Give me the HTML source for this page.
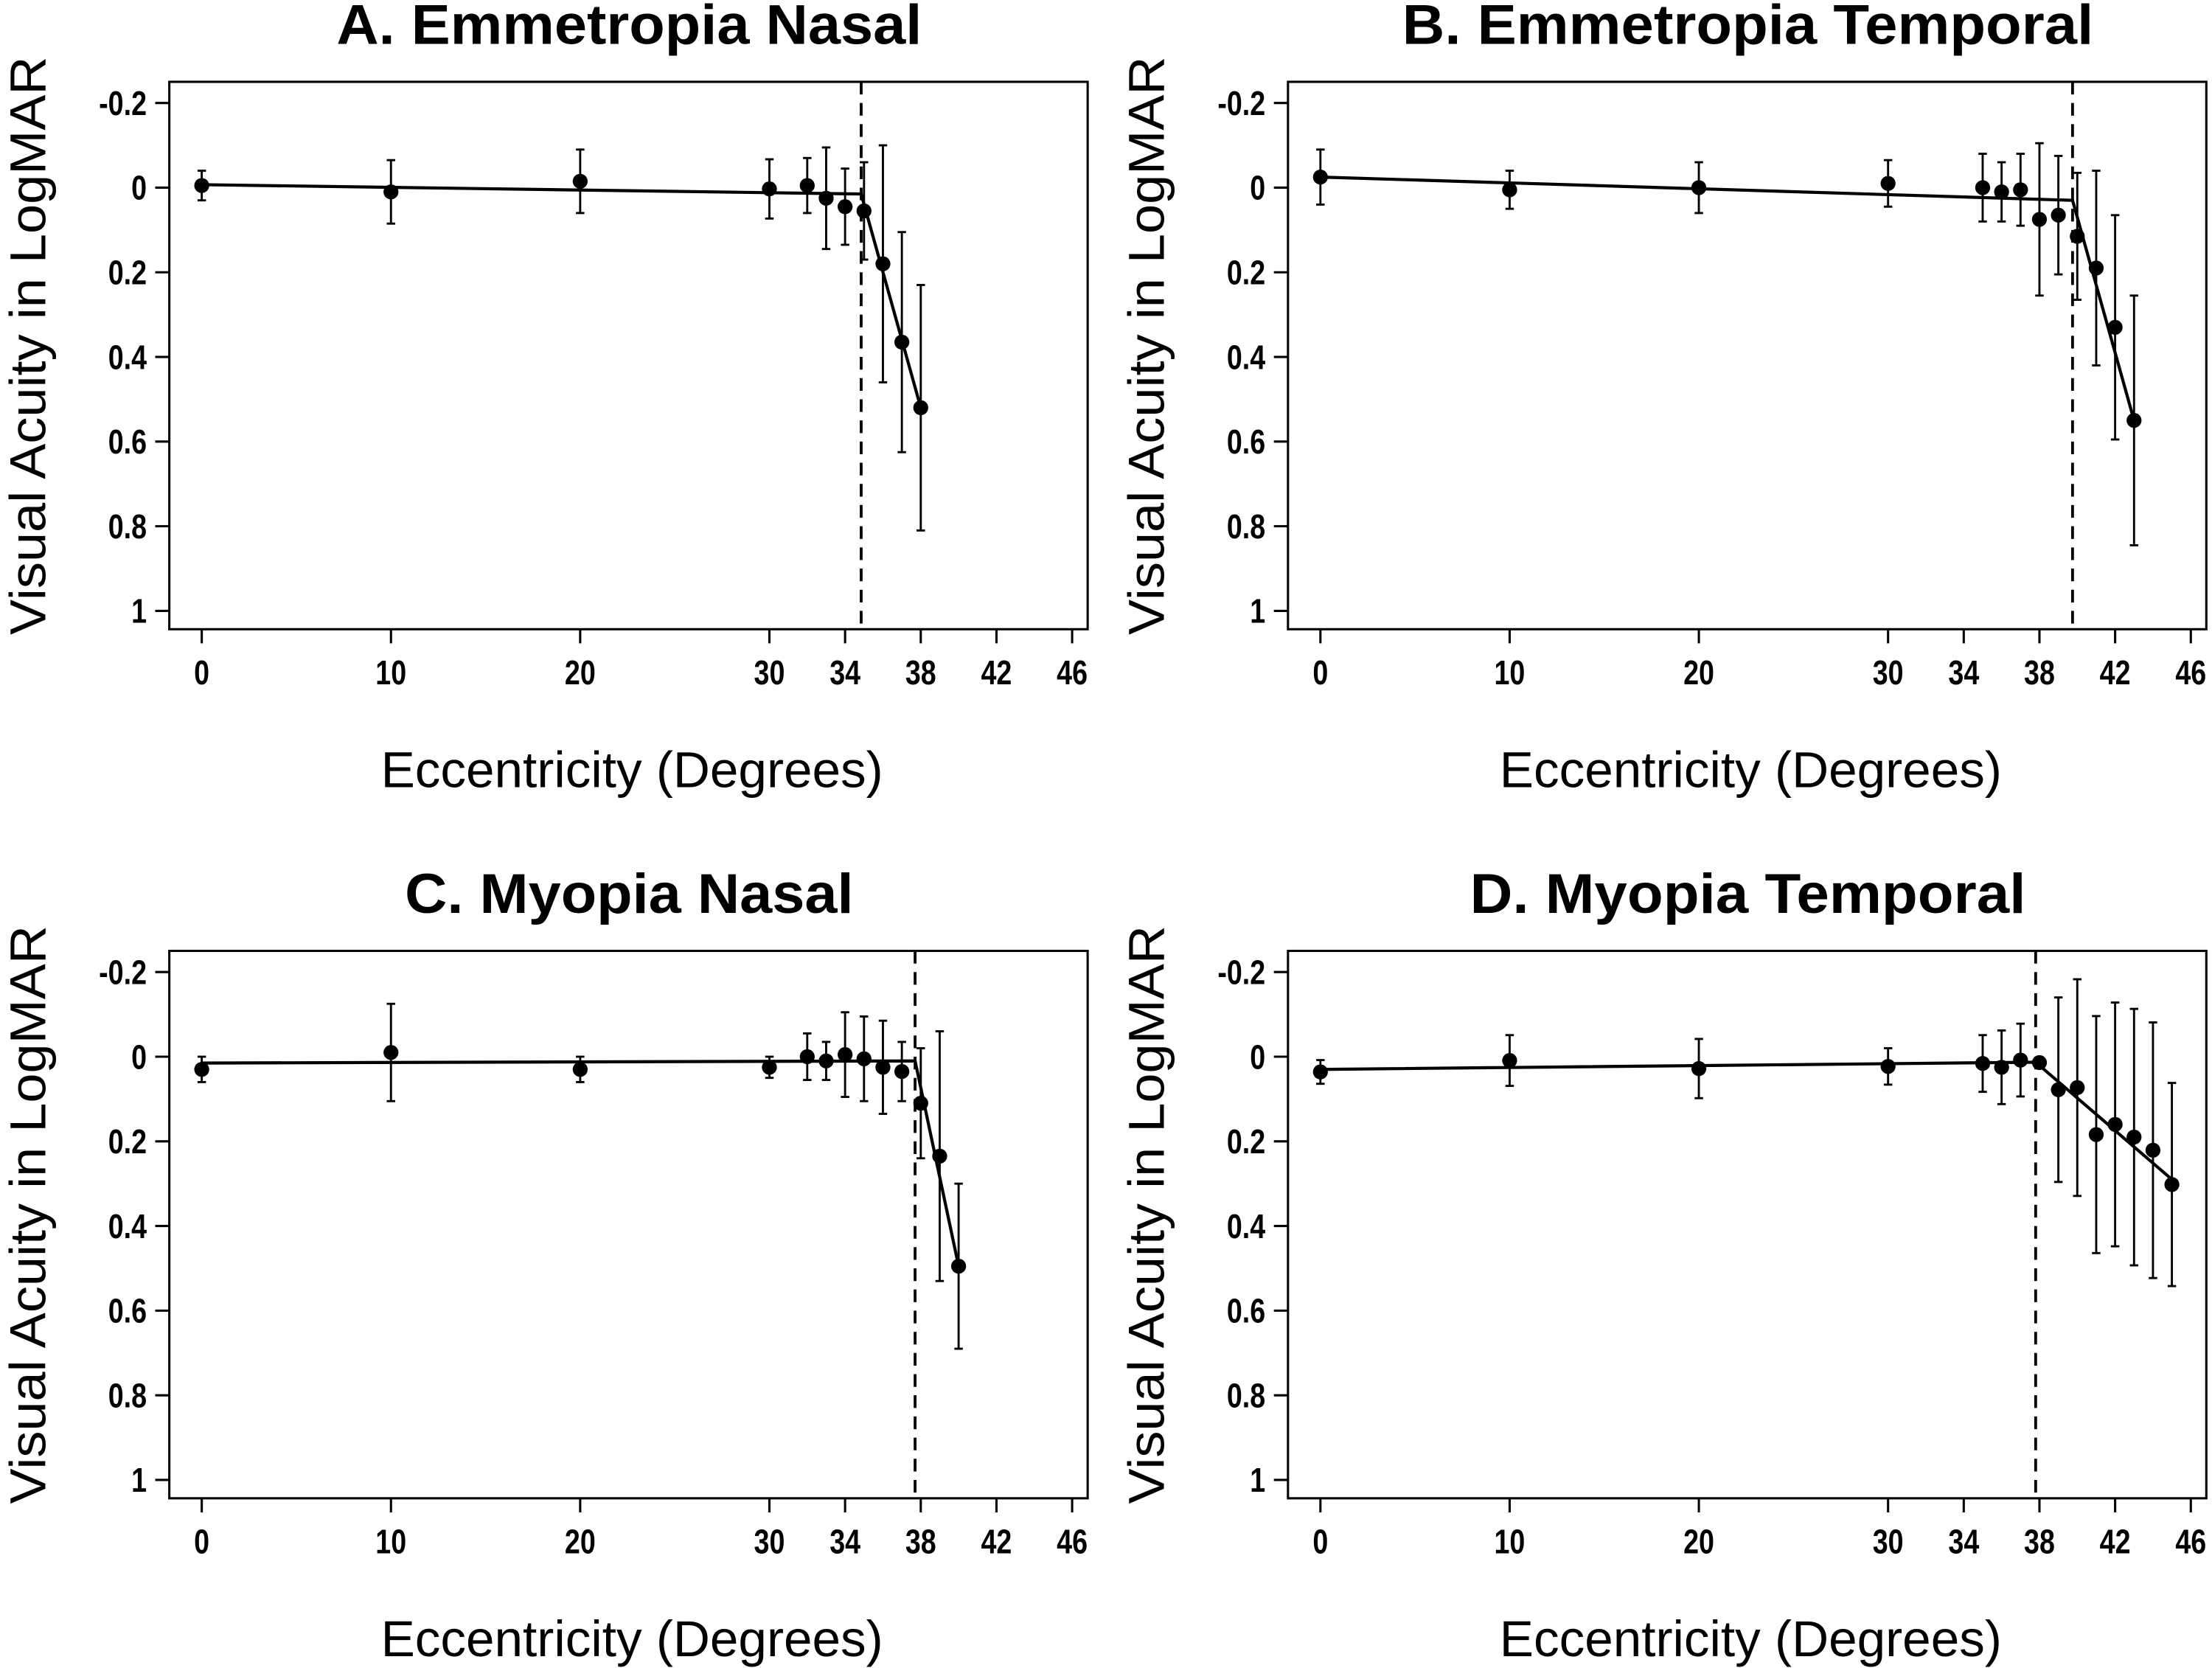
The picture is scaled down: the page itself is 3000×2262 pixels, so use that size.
<!DOCTYPE html>
<html><head><meta charset="utf-8"><style>
html,body{margin:0;padding:0;background:#fff;}
svg{display:block;}
text{font-family:"Liberation Sans",Arial,sans-serif;fill:#000;}
</style></head>
<body>
<svg id="fig" width="3000" height="2262" viewBox="0 0 1568 1182.3" xmlns="http://www.w3.org/2000/svg"></svg>
<script>
const xTicks=[0,10,20,30,34,38,42,46];
const yTicks=[-0.2,0,0.2,0.4,0.6,0.8,1];
const yTickLabels=["-0.2","0","0.2","0.4","0.6","0.8","1"];
const titles=["A. Emmetropia Nasal","B. Emmetropia Temporal","C. Myopia Nasal","D. Myopia Temporal"];
const titleLens=[415,490,318,394];
const xA=[0,10,20,30,32,33,34,35,36,37,38];
const yA=[-0.005,0.01,-0.015,0.003,-0.005,0.025,0.045,0.055,0.18,0.365,0.52];
const eA=[0.035,0.075,0.075,0.07,0.065,0.12,0.09,0.115,0.28,0.26,0.29];
const fitXA=[0,34.85,38];const fitYA=[-0.007,0.015,0.52];const breakA=34.85;
const xB=[0,10,20,30,35,36,37,38,39,40,41,42,43];
const yB=[-0.025,0.005,0,-0.01,0,0.01,0.005,0.075,0.065,0.115,0.19,0.33,0.55];
const eB=[0.065,0.045,0.06,0.055,0.08,0.07,0.085,0.18,0.14,0.15,0.23,0.265,0.295];
const fitXB=[0,39.75,43];const fitYB=[-0.025,0.03,0.55];const breakB=39.75;
const xC=[0,10,20,30,32,33,34,35,36,37,38,39,40];
const yC=[0.03,-0.01,0.03,0.025,0,0.01,-0.005,0.005,0.025,0.035,0.11,0.235,0.495];
const eC=[0.03,0.115,0.03,0.025,0.055,0.045,0.1,0.1,0.11,0.07,0.13,0.295,0.195];
const fitXC=[0,37.7,40];const fitYC=[0.015,0.01,0.495];const breakC=37.7;
const xD=[0,10,20,30,35,36,37,38,39,40,41,42,43,44,45];
const yD=[0.036,0.009,0.028,0.023,0.016,0.025,0.008,0.014,0.078,0.073,0.184,0.16,0.19,0.221,0.302];
const eD=[0.028,0.06,0.07,0.043,0.067,0.087,0.086,0,0.218,0.256,0.28,0.288,0.303,0.302,0.24];
const fitXD=[0,37.8,45];const fitYD=[0.03,0.013,0.29];const breakD=37.8;

const NS="http://www.w3.org/2000/svg";
const svg=document.getElementById('fig');
function mk(tag,attrs,parent){const e=document.createElementNS(NS,tag);for(const k in attrs)e.setAttribute(k,attrs[k]);(parent||svg).appendChild(e);return e;}

const panels=[
 {dx:0,dy:0,x:xA,y:yA,e:eA,fx:fitXA,fy:fitYA,b:breakA,name:'panel-a'},
 {dx:793,dy:0,x:xB,y:yB,e:eB,fx:fitXB,fy:fitYB,b:breakB,name:'panel-b'},
 {dx:0,dy:616,x:xC,y:yC,e:eC,fx:fitXC,fy:fitYC,b:breakC,name:'panel-c'},
 {dx:793,dy:616,x:xD,y:yD,e:eD,fx:fitXD,fy:fitYD,b:breakD,name:'panel-d'}];

const SX=0.82;
panels.forEach((p,i)=>{
 const g=mk('g',{transform:`translate(${p.dx},${p.dy})`});
 
 
 const X=v=>143+v*(760-143)/46;
 const Y=v=>133+v*300;
 const t=mk('text',{x:446,y:31,'text-anchor':'middle','font-size':40,'font-weight':'bold',textLength:titleLens[i],lengthAdjust:'spacingAndGlyphs'},g);t.textContent=titles[i];
 
 
 const box=mk('rect',{x:120,y:58,width:651,height:388,fill:'none',stroke:'#000','stroke-width':1.6},g);
 
 
 yTicks.forEach((v,j)=>{
  mk('line',{x1:110,x2:120,y1:Y(v),y2:Y(v),stroke:'#000','stroke-width':1.6},g);
  const l=mk('text',{x:104/SX,y:Y(v)+8.5,'text-anchor':'end','font-size':24,'font-weight':'bold',transform:`scale(${SX},1)`},g);
  l.textContent=yTickLabels[j];
  
  
 });
 xTicks.forEach(v=>{
  mk('line',{x1:X(v),x2:X(v),y1:446,y2:456,stroke:'#000','stroke-width':1.6},g);
  const l=mk('text',{x:X(v)/SX,y:485,'text-anchor':'middle','font-size':24,'font-weight':'bold',transform:`scale(${SX},1)`},g);
  l.textContent=String(v);
  
  
 });
 const xl=mk('text',{x:448,y:558,'text-anchor':'middle','font-size':36,textLength:356,lengthAdjust:'spacingAndGlyphs'},g);xl.textContent='Eccentricity (Degrees)';
 
 
 const yl=mk('text',{x:0,y:0,'text-anchor':'middle','font-size':36,textLength:410,lengthAdjust:'spacingAndGlyphs',transform:'translate(32,245) rotate(-90)'},g);yl.textContent='Visual Acuity in LogMAR';
 
 
 const dl=mk('line',{x1:X(p.b),x2:X(p.b),y1:58,y2:446,stroke:'#000','stroke-width':2,'stroke-dasharray':'9,6'},g);
 
 
 const pts=p.fx.map((v,j)=>X(v)+','+Y(p.fy[j])).join(' ');
 const fl=mk('polyline',{points:pts,fill:'none',stroke:'#000','stroke-width':2.2},g);
 
 
 p.x.forEach((v,j)=>{
  const cx=X(v),cy=Y(p.y[j]),e=p.e[j];
  if(e>0){
   mk('line',{x1:cx,x2:cx,y1:Y(p.y[j]-e),y2:Y(p.y[j]+e),stroke:'#000','stroke-width':1.5},g);
   mk('line',{x1:cx-3,x2:cx+3,y1:Y(p.y[j]-e),y2:Y(p.y[j]-e),stroke:'#000','stroke-width':1.5},g);
   mk('line',{x1:cx-3,x2:cx+3,y1:Y(p.y[j]+e),y2:Y(p.y[j]+e),stroke:'#000','stroke-width':1.5},g);
  }
  const c=mk('circle',{cx:cx,cy:cy,r:5.3,fill:'#000'},g);
  
  
 });
});
</script>
</body></html>
